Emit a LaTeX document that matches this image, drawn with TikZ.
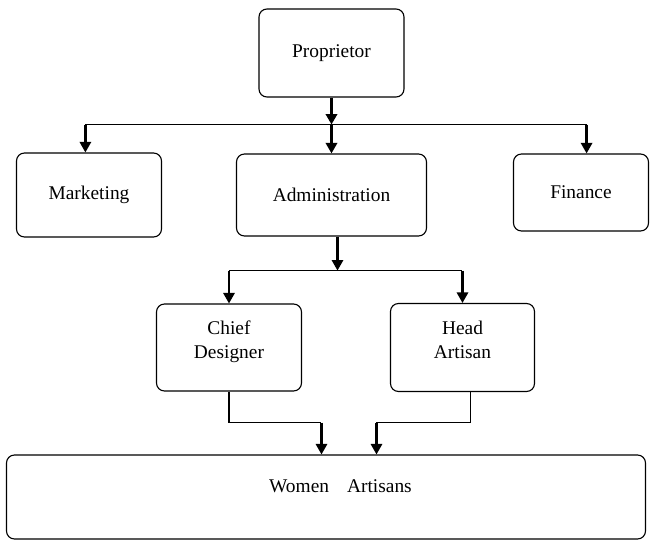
\documentclass[tikz,border=0pt]{standalone}
\usepackage{fontspec}
\setmainfont{Liberation Serif}
\usetikzlibrary{positioning, arrows.meta}

\begin{document}
\begin{tikzpicture}
    [
        node distance=3.55cm,
        post/.style={
            draw, rectangle, rounded corners=0.2cm, line width=0.8pt,
            minimum width=3.625cm, minimum height=2.1cm, align=center,
            font=\fontsize{13.8}{17}\selectfont
        },
        bus/.style={line width=0.9pt},
        feed/.style={line width=1.6pt, -{Triangle[length=7.5pt, width=8pt]}},
        mainfeed/.style={line width=2.2pt, -{Triangle[length=7.5pt, width=8pt]}}
    ]

\useasboundingbox (-8.2875,1.325) rectangle (8.0125,-12.175);

% Nodes
\node (owner) [post, minimum height=2.2cm] {Proprietor};

\node (admin) [
        post, below of=owner, minimum width=4.75cm, minimum height=2.05cm,
    ] {Administration};

\node (marketing) [
        post, node distance=6.0625cm, left of=admin,
    ] {Marketing};

\node (finance) [
        post, node distance=6.2375cm, right of=admin, yshift=0.0625cm,
        minimum width=3.375cm, minimum height=1.925cm,
    ] {Finance};

\node (designer) [
        post, node distance=3.8125cm, below of=admin, xshift=-2.5625cm,
        minimum height=2.175cm, text depth=0.39cm,
    ] {Chief\\Designer};

\node (headartisan) [
        post, node distance=5.8375cm, right of=designer,
        minimum width=3.6cm, minimum height=2.2cm, text depth=0.39cm,
    ] {Head\\Artisan};

\node (artisans) [
        post, node distance=7.55cm, below of=admin, xshift=-0.1375cm,
        minimum width=15.975cm, minimum height=2.1cm, text depth=0.55cm,
    ] {\hspace*{0.725cm}Women\hspace{0.45cm}Artisans};

% Proprietor to first row
\coordinate (split1) at ([yshift=-0.675cm]owner.south);
\coordinate (marketin) at ([xshift=-0.09cm]marketing.north);
\coordinate (financein) at ([xshift=0.14cm]finance.north);
\draw[mainfeed] (owner.south) -- (split1);
\draw[mainfeed] (split1) -- (admin.north);
\draw[bus] (split1 -| marketin) -- (split1 -| financein);
\draw[feed] (split1 -| marketin) -- (marketin);
\draw[feed] (split1 -| financein) -- (financein);

% Administration to second row
\coordinate (adminout) at ([xshift=0.15cm]admin.south);
\coordinate (split2) at ([yshift=-0.85cm]adminout);
\draw[feed] (adminout) -- (split2);
\draw[bus] (split2 -| designer.north) -- (split2 -| headartisan.north);
\draw[feed] (split2 -| designer.north) -- (designer.north);
\draw[feed] (split2 -| headartisan.north) -- (headartisan.north);

% Second row to women artisans
\coordinate (join) at ([yshift=-0.775cm]designer.south);
\coordinate (headout) at ([xshift=0.2cm]headartisan.south);
\coordinate (artisansL) at ([xshift=-0.1125cm]artisans.north);
\coordinate (artisansR) at ([xshift=1.2625cm]artisans.north);
\draw[bus] (designer.south) |- (join -| artisansL);
\draw[feed] (join -| artisansL) -- (artisansL);
\draw[bus] (headout) |- (join -| artisansR);
\draw[feed] (join -| artisansR) -- (artisansR);

\end{tikzpicture}
\end{document}
